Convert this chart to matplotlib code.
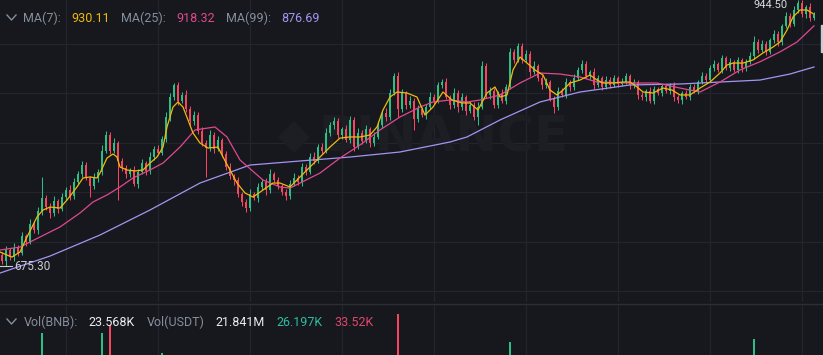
import numpy as np
import matplotlib
matplotlib.use("Agg")
import matplotlib.pyplot as plt
from matplotlib.lines import Line2D
from matplotlib.patches import Rectangle

# ---------------- data ----------------
first_open = 686.0
closes = [
    680, 692, 684, 694, 688, 706, 700, 718, 712, 731,
    744, 735, 729, 741, 733, 745, 752, 746, 760, 768,
    778, 764, 756, 764, 770, 792, 808, 792, 800, 782,
    774, 768, 772, 758, 770, 780, 771, 786, 794, 790,
    804, 826, 846, 858, 842, 848, 834, 822, 828, 812,
    800, 795, 808, 794, 803, 789, 776, 766, 762, 748,
    740, 734, 748, 744, 755, 760, 752, 768, 762, 756,
    750, 746, 758, 764, 760, 776, 770, 786, 782, 796,
    792, 810, 818, 822, 808, 814, 803, 823, 796, 810,
    802, 814, 800, 806, 818, 830, 826, 850, 868, 834,
    850, 838, 842, 824, 834, 828, 836, 846, 842, 858,
    862, 846, 838, 850, 836, 846, 832, 838, 826, 836,
    878, 848, 852, 838, 850, 842, 856, 892, 884, 898,
    884, 890, 872, 878, 866, 858, 862, 844, 836, 852,
    848, 862, 856, 866, 874, 880, 868, 872, 858, 866,
    856, 864, 858, 866, 859, 862, 868, 858, 862, 848,
    846, 852, 842, 854, 850, 857, 852, 858, 846, 843,
    850, 846, 856, 852, 862, 868, 864, 876, 880, 874,
    886, 876, 882, 874, 884, 876, 882, 888, 902, 894,
    900, 892, 904, 910, 902, 918, 928, 920, 934, 941,
    930, 937, 926, 929]

upper_wick = [
    3, 4, 2, 5, 3, 4, 2, 5, 3, 4,
    21, 3, 4, 5, 2, 4, 3, 5, 4, 3,
    4, 3, 2, 5, 3, 6, 4, 3, 5, 2,
    3, 4, 2, 5, 3, 4, 2, 5, 3, 4,
    3, 5, 4, 3, 4, 3, 5, 3, 4, 3,
    4, 3, 5, 3, 4, 2, 3, 4, 2, 3,
    2, 3, 5, 2, 4, 3, 4, 5, 2, 3,
    2, 3, 4, 5, 3, 4, 3, 4, 5, 3,
    4, 5, 3, 4, 3, 2, 4, 4, 3, 5,
    3, 4, 2, 5, 4, 3, 5, 4, 3, 4,
    4, 2, 5, 3, 4, 2, 3, 5, 3, 4,
    3, 4, 2, 5, 3, 4, 2, 4, 3, 5,
    5, 3, 4, 3, 2, 4, 3, 4, 3, 3,
    3, 4, 3, 5, 2, 3, 4, 2, 3, 4,
    3, 4, 2, 4, 3, 4, 3, 2, 4, 3,
    2, 4, 3, 3, 2, 4, 3, 2, 3, 2,
    3, 2, 4, 3, 2, 3, 2, 3, 4, 2,
    2, 3, 4, 3, 2, 4, 3, 3, 4, 2,
    3, 2, 4, 2, 3, 2, 3, 4, 6, 3,
    4, 3, 2, 4, 3, 2, 4, 3, 4, 3.5,
    3, 2, 4, 3]

lower_wick = [
    3, 4.7, 3, 4, 3, 2, 4, 2, 3, 4,
    4, 3, 5, 3, 4, 2, 3, 4, 3, 2,
    3, 2, 11, 3, 4, 3, 2, 3, 2, 40,
    3, 4, 3, 2, 4, 2, 4, 3, 3, 2,
    2, 3, 4, 3, 4, 2, 3, 5, 4, 3,
    3, 30, 3, 4, 2, 3, 4, 3, 5, 3,
    4, 4, 3, 2, 4, 3, 5, 3, 2, 3,
    3, 4, 3, 2, 3, 4, 3, 2, 3, 2,
    3, 2, 3, 4, 3, 4, 2, 3, 4, 2,
    3, 2, 4, 3, 2, 3, 4, 3, 2, 8,
    3, 4, 3, 11, 3, 2, 4, 2, 3, 2,
    3, 2, 4, 3, 5, 3, 4, 2, 3, 8,
    2, 3, 4, 3, 3, 2, 3, 2, 3, 2,
    3, 2, 4, 2, 3, 4, 3, 2, 6, 3,
    2, 3, 4, 3, 2, 3, 2, 3, 4, 2,
    3, 2, 3, 2, 3, 2, 3, 4, 3, 4,
    3, 4, 2, 3, 2, 3, 2, 3, 4, 3,
    4, 2, 3, 2, 3, 2, 3, 2, 3, 2,
    3, 2, 3, 2, 3, 4, 3, 2, 3, 3,
    2, 3, 2, 3, 4, 3, 2, 3, 2, 3,
    3, 4, 3, 2]

volumes_k = [
    42, 38, 30, 25, 33, 28, 31, 27, 24, 35,
    87, 40, 29, 26, 31, 22, 25, 28, 33, 30,
    41, 35, 30, 22, 27, 87, 52, 95, 44, 48,
    36, 29, 25, 24, 21, 28, 23, 26, 30, 27,
    67, 45, 55, 50, 38, 32, 30, 34, 28, 31,
    29, 40, 27, 35, 25, 30, 33, 28, 26, 31,
    36, 30, 28, 25, 22, 24, 21, 26, 23, 22,
    20, 27, 24, 26, 25, 23, 22, 28, 30, 24,
    26, 29, 33, 35, 28, 24, 27, 31, 36, 25,
    22, 24, 21, 20, 25, 33, 37, 41, 48, 106,
    44, 35, 29, 38, 27, 25, 24, 22, 28, 30,
    32, 29, 24, 22, 21, 23, 26, 24, 22, 27,
    58, 42, 30, 25, 23, 21, 26, 78, 46, 35,
    33, 28, 25, 22, 24, 27, 26, 31, 38, 29,
    24, 22, 20, 21, 27, 30, 24, 22, 20, 19,
    18, 20, 19, 17, 18, 16, 19, 21, 18, 22,
    24, 20, 19, 18, 21, 17, 16, 18, 20, 22,
    19, 18, 17, 20, 19, 24, 26, 28, 25, 22,
    21, 20, 22, 19, 23, 24, 22, 26, 81, 38,
    30, 27, 34, 31, 28, 40, 45, 36, 38, 42,
    35, 30, 27, 23.568]

ma7_t = [-0.5, 1.25, 2.5, 4.5, 6.25, 7.5, 8.75, 10.25, 12, 14.5, 16.25, 18.75, 20.25,
         22, 23.75, 24.5, 26.25, 27.75, 28.75, 29.5, 31.25, 33.25, 35.25, 37, 38.75,
         40.25, 41.25, 42.75, 44, 45.25, 46.5, 47.75, 49.5, 51.5, 54, 55.25, 57, 58.75,
         60.75, 62.75, 65.25, 67.75, 69.5, 72, 74.5, 77, 79.5, 82, 84.5, 87, 89.5, 92,
         93.75, 95.25, 97, 98.75, 101.25, 103.75, 105.75, 107.75, 110.25, 112.5, 115,
         117, 119, 121.25, 123.25, 124.5, 126.25, 127.75, 129.5, 131.25, 133.25, 135.25,
         137, 138.75, 140.25, 142, 144.5, 147, 148.75, 150.25, 152.75, 155.25, 157,
         158.75, 160.25, 162.75, 165.25, 167.5, 169.5, 172, 174.5, 177, 179.5, 181.25,
         182.75, 185.25, 187.75, 190.25, 192.75, 194.5, 196.25, 197.75, 199.5, 201.25, 203]
ma7_v = [689.5, 686.4, 684.4, 689.5, 704.7, 714.8, 724.9, 732.0, 735.0, 734.0, 742.1,
         755.3, 764.4, 765.4, 764.4, 769.4, 784.6, 788.7, 785.6, 775.5, 772.5, 771.5,
         772.5, 779.5, 785.6, 795.7, 816.0, 836.2, 841.3, 836.2, 823.1, 809.9, 799.8,
         794.7, 795.7, 785.6, 772.5, 759.3, 749.2, 745.1, 752.2, 759.3, 759.3, 755.3,
         765.4, 775.5, 785.6, 795.7, 804.8, 805.9, 805.9, 807.9, 816.0, 833.2, 846.3,
         851.4, 850.4, 846.3, 828.1, 836.2, 851.4, 843.3, 840.3, 840.3, 833.2, 850.4,
         856.5, 846.3, 848.4, 873.7, 886.8, 880.7, 873.7, 868.6, 853.4, 848.4, 853.4,
         860.5, 863.5, 868.6, 863.5, 860.5, 860.5, 861.5, 861.5, 856.5, 851.4, 850.4,
         855.4, 853.4, 848.4, 848.4, 855.4, 861.5, 870.6, 878.7, 880.7, 880.7, 883.8,
         890.9, 896.9, 902.0, 914.1, 927.3, 934.4, 934.4, 930.1]

ma25_t = [-0.5, 4.5, 9.5, 14.5, 19.5, 22.75, 26.25, 29.5, 32.75, 37, 40.25, 44.5, 48.25,
          53.25, 56.25, 59.5, 65.25, 69.5, 72, 79.5, 84.5, 89.5, 94.5, 99.5, 104.5,
          107.75, 112, 116.25, 119.5, 124.5, 129.5, 134.5, 139.5, 144.5, 148.75, 157,
          163.75, 169.5, 174.5, 179.5, 184.5, 189.5, 194.5, 198.75, 203]
ma25_v = [691.5, 694.5, 704.7, 714.8, 729.0, 740.1, 747.2, 755.3, 764.4, 772.5, 779.5,
          795.7, 813.0, 816.0, 805.9, 782.6, 762.3, 755.3, 754.2, 769.4, 784.6, 797.8,
          813.0, 826.1, 836.2, 841.3, 843.3, 841.3, 843.3, 848.4, 860.5, 870.6, 869.6,
          866.6, 861.5, 860.5, 860.5, 855.4, 851.4, 861.5, 873.7, 882.0, 892.0, 902.0,
          918.3]

ma99_t = [-0.5, 12, 24.5, 37, 49.5, 62, 74.5, 87, 99.5, 112, 116.25, 124.5, 134.5,
          144.5, 157, 169.5, 179.5, 189.5, 197, 203]
ma99_v = [668.2, 685.4, 706.7, 732.0, 759.3, 777.5, 781.6, 785.6, 790.7, 800.8, 805.9,
          823.1, 841.3, 851.4, 858.5, 859.5, 861.5, 863.5, 869.6, 876.7]

ma_labels = ["MA(7):", "MA(25):", "MA(99):"]
ma_values = ["930.11", "918.32", "876.69"]
vol_labels = ["Vol(BNB):", "23.568K", "Vol(USDT)", "21.841M", "26.197K", "33.52K"]
low_label = "675.30"
high_label = "944.50"
watermark = "BINANCE"

# ---------------- style ----------------
W, H = 823, 355
BG = "#16181d"
GRID = "#22252b"
GREEN = "#2ebd85"
RED = "#f6465d"
YEL = "#f0b90b"
PINK = "#e0488f"
PURP = "#a494f2"
GRAY = "#848e9c"
FONT = ["Roboto", "DejaVu Sans"]

def fx(x):
    return x / W

def fy(y):
    return 1 - y / H

fig = plt.figure(figsize=(W / 100, H / 100), dpi=100)
fig.patch.set_facecolor(BG)

ax = fig.add_axes([0, fy(302), 1, 302 / H])
axv = fig.add_axes([0, fy(420), 1, (420 - 304) / H])
time_ticks = np.arange(16, 205, 23)
for a in (ax, axv):
    a.set_facecolor(BG)
    a.set_xlim(-0.5, 205.25)
    a.set_xticks(time_ticks)
    a.tick_params(length=0, labelbottom=False, labelleft=False)
    for s in a.spines.values():
        s.set_visible(False)
    a.grid(True, axis="x", color=GRID, lw=0.9, zorder=0)
    a.set_axisbelow(True)

ax.set_ylim(638.9, 944.5)
ax.set_yticks([650, 700, 750, 800, 850, 900])
ax.grid(True, axis="y", color=GRID, lw=0.9, zorder=0)
axv.set_ylim(0, 116)
axv.set_yticks([])

# watermark (behind candles)
WM = "#1c1e23"
ax.text(fx(294), fy(137), "\u25C6", color=WM, fontsize=30, ha="center", va="center",
        family="DejaVu Sans", transform=fig.transFigure, zorder=0.6)
ax.text(fx(318), fy(138), watermark, color=WM, fontsize=36, fontweight="bold",
        ha="left", va="center", family="DejaVu Sans", transform=fig.transFigure, zorder=0.6)

# candles
idx = np.arange(len(closes))
c = np.array(closes, dtype=float)
o = np.concatenate([[first_open], c[:-1]])
up = c >= o
hi = np.maximum(o, c) + np.array(upper_wick, dtype=float)
lo = np.minimum(o, c) - np.array(lower_wick, dtype=float)
cols = np.where(up, GREEN, RED)
ax.vlines(idx, lo, hi, colors=cols, lw=0.75, zorder=2)
ax.bar(idx, np.maximum(np.abs(c - o), 0.9), bottom=np.minimum(o, c), width=0.74,
       color=cols, linewidth=0, zorder=3)

# moving averages
ax.plot(ma99_t, ma99_v, color=PURP, lw=0.9, zorder=4, solid_joinstyle="round")
ax.plot(ma25_t, ma25_v, color=PINK, lw=0.9, zorder=5, solid_joinstyle="round")
ax.plot(ma7_t, ma7_v, color=YEL, lw=0.9, zorder=6, solid_joinstyle="round")

# volume
axv.bar(idx, volumes_k, width=0.62, color=cols, linewidth=0, zorder=3)

# divider
fig.add_artist(Line2D([0, 1], [fy(303.5), fy(303.5)], color="#2b2e35", lw=1.0))

# chevrons
for yc in (17.5, 321.5):
    fig.add_artist(Line2D([fx(7), fx(11.5), fx(16)], [fy(yc - 2.5), fy(yc + 2.5), fy(yc - 2.5)],
                          color=GRAY, lw=1.0))

# MA legend
ma_label_x = [23, 121, 226]
ma_value_x = [71, 176, 281]
ma_cols = [YEL, PINK, PURP]
for lab, lx, val, vx, col in zip(ma_labels, ma_label_x, ma_values, ma_value_x, ma_cols):
    fig.text(fx(lx), fy(18), lab, color=GRAY, fontsize=9, ha="left", va="center", family=FONT)
    fig.text(fx(vx), fy(18), val, color=col, fontsize=9, ha="left", va="center", family=FONT)

# volume legend
vol_x = [24, 88, 147, 215, 276, 334]
vol_cols = [GRAY, "#eaecef", GRAY, "#eaecef", "#2ebda0", "#e2456b"]
for lab, vx, col in zip(vol_labels, vol_x, vol_cols):
    fig.text(fx(vx), fy(322), lab, color=col, fontsize=9, ha="left", va="center", family=FONT)

# low / high price markers
fig.add_artist(Line2D([fx(0), fx(12)], [fy(266), fy(266)], color="#c9cdd4", lw=0.8))
fig.text(fx(14), fy(266), low_label, color="#c9cdd4", fontsize=8.5, ha="left",
         va="center", family=FONT)
fig.text(fx(753), fy(5.5), high_label, color="#d8dbe0", fontsize=8, ha="left",
         va="center", family=FONT)

# right-edge price tag sliver
fig.add_artist(Rectangle((fx(821), fy(52)), fx(2), 27 / H, color="#c9ccd2",
                         transform=fig.transFigure))

fig.savefig("out.png", dpi=100, facecolor=BG)
